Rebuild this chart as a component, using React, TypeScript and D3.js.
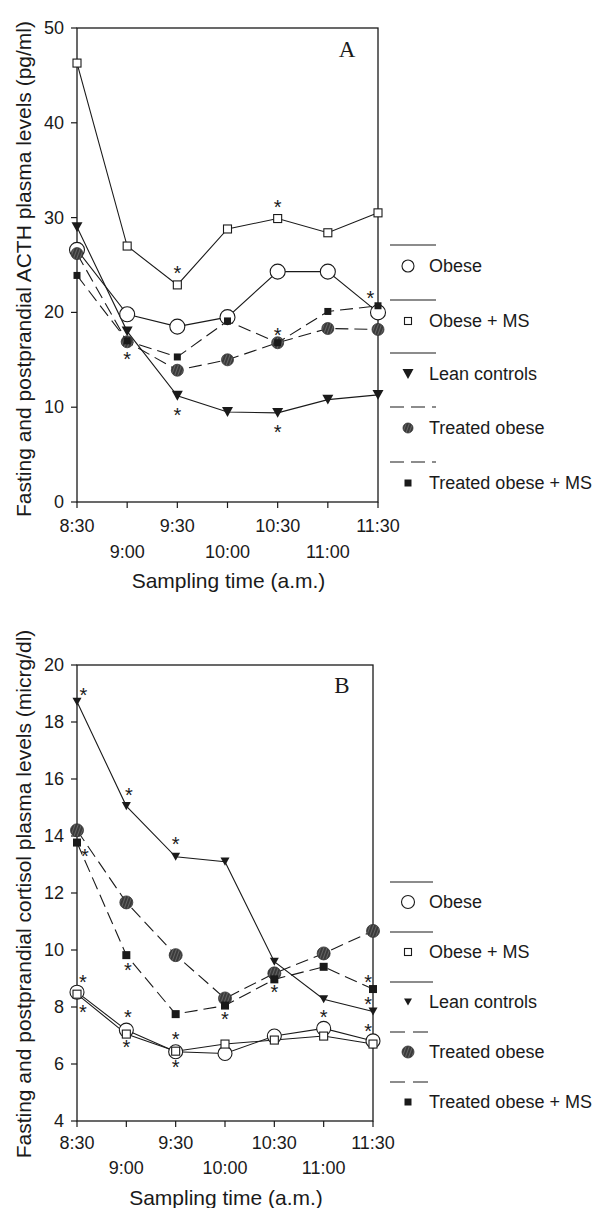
import React from "react";
import * as d3 from "d3";

// ---------- data ----------
const timeLabels = ["8:30", "9:00", "9:30", "10:00", "10:30", "11:00", "11:30"];

const seriesNames = ["Obese", "Obese + MS", "Lean controls", "Treated obese", "Treated obese + MS"];

// Panel A: ACTH (pg/ml)
const acthObese = [26.6, 19.8, 18.5, 19.5, 24.3, 24.3, 20.0];
const acthObeseMS = [46.3, 27.0, 22.9, 28.8, 29.9, 28.4, 30.5];
const acthLean = [29.0, 18.0, 11.2, 9.5, 9.4, 10.8, 11.3];
const acthTreated = [26.2, 16.9, 13.9, 15.0, 16.8, 18.3, 18.2];
const acthTreatedMS = [23.9, 17.0, 15.3, 19.1, 16.8, 20.1, 20.7];
const acthTicks = [0, 10, 20, 30, 40, 50];
const acthStars = [
  { t: 1, v: 15.6 }, { t: 2, v: 24.6 }, { t: 2, v: 9.7 },
  { t: 4, v: 31.6 }, { t: 4, v: 18.1 }, { t: 4, v: 7.9 }, { t: 5.85, v: 22.0 },
];

// Panel B: cortisol (micrg/dl)
const cortObese = [8.52, 7.19, 6.43, 6.37, 6.98, 7.25, 6.81];
const cortObeseMS = [8.45, 7.05, 6.45, 6.7, 6.84, 6.98, 6.7];
const cortLean = [18.71, 15.05, 13.27, 13.1, 9.59, 8.27, 7.84];
const cortTreated = [14.2, 11.67, 9.82, 8.3, 9.18, 9.88, 10.67];
const cortTreatedMS = [13.77, 9.82, 7.75, 8.05, 8.97, 9.41, 8.63];
const cortTicks = [4, 6, 8, 10, 12, 14, 16, 18, 20];
const cortStars = [
  { t: 0.13, v: 19.12 }, { t: 0.16, v: 13.44 }, { t: 0.12, v: 9.02 }, { t: 0.12, v: 8.0 },
  { t: 1.05, v: 15.58 }, { t: 1.03, v: 9.47 }, { t: 1.03, v: 7.79 }, { t: 1.0, v: 6.74 },
  { t: 2.0, v: 13.89 }, { t: 2.0, v: 7.05 }, { t: 2.0, v: 6.04 },
  { t: 3.0, v: 7.72 }, { t: 4.0, v: 8.67 }, { t: 5.0, v: 7.79 },
  { t: 5.9, v: 9.02 }, { t: 5.9, v: 8.25 }, { t: 5.9, v: 7.33 },
];

// ---------- styles ----------
const SANS = "'Liberation Sans', Arial, Helvetica, sans-serif";
const SERIF = "'Liberation Serif', 'Times New Roman', serif";
const INK = "#1a1a1a";

type MarkerKind = "circle" | "square" | "triangle" | "hatch" | "fsquare";
const kinds: MarkerKind[] = ["circle", "square", "triangle", "hatch", "fsquare"];
const dashed = [false, false, false, true, true];

type Sizes = { circle: number; square: number; triangle: number; hatch: number; fsquare: number };

function Marker({ kind, x, y, s }: { kind: MarkerKind; x: number; y: number; s: Sizes }) {
  if (kind === "circle")
    return <circle cx={x} cy={y} r={s.circle} fill="#fff" stroke={INK} strokeWidth={1.1} />;
  if (kind === "square")
    return <rect x={x - s.square / 2} y={y - s.square / 2} width={s.square} height={s.square} fill="#fff" stroke={INK} strokeWidth={1.1} />;
  if (kind === "triangle") {
    const w = s.triangle;
    const h = w * 0.9;
    return <path d={`M${x - w / 2},${y - h / 2}L${x + w / 2},${y - h / 2}L${x},${y + h / 2}Z`} fill={INK} />;
  }
  if (kind === "hatch")
    return <circle cx={x} cy={y} r={s.hatch} fill="url(#hatchPat)" stroke="#333" strokeWidth={0.8} />;
  return <rect x={x - s.fsquare / 2} y={y - s.fsquare / 2} width={s.fsquare} height={s.fsquare} fill={INK} />;
}

type PanelProps = {
  series: number[][];
  yDomain: [number, number];
  yTicks: number[];
  stars: { t: number; v: number }[];
  x0: number; x1: number; yTop: number; yBot: number;
  letter: string; letterY: number;
  yTitle: string; yTitleY: number;
  rowOff: [number, number, number];
  legendLineY: number[]; legendTextDy: number; legendLineEnd: number;
  legendDash: string;
  plotSizes: Sizes; legendSizes: Sizes;
};

function Panel(p: PanelProps) {
  const x = d3.scaleLinear().domain([0, 6]).range([p.x0, p.x1]);
  const y = d3.scaleLinear().domain(p.yDomain).range([p.yBot, p.yTop]);
  const line = d3.line<number>().x((_, i) => x(i)).y((d) => y(d));
  const titleX = (p.x0 + p.x1) / 2 + 1;
  return (
    <g>
      {/* frame */}
      <rect x={p.x0} y={p.yTop} width={p.x1 - p.x0} height={p.yBot - p.yTop} fill="none" stroke={INK} strokeWidth={1.3} />
      {/* y ticks */}
      {p.yTicks.map((t) => (
        <g key={"yt" + t}>
          <line x1={p.x0 - 6} x2={p.x0} y1={y(t)} y2={y(t)} stroke={INK} strokeWidth={1.2} />
          <text x={p.x0 - 13} y={y(t)} textAnchor="end" dominantBaseline="central" fontFamily={SANS} fontSize={18} fill={INK}>{t}</text>
        </g>
      ))}
      {/* x ticks */}
      {timeLabels.map((lab, i) => (
        <g key={"xt" + i}>
          <line x1={x(i)} x2={x(i)} y1={p.yBot} y2={p.yBot + 6} stroke={INK} strokeWidth={1.2} />
          <text x={x(i)} y={p.yBot + (i % 2 === 0 ? p.rowOff[0] : p.rowOff[1])} textAnchor="middle" fontFamily={SANS} fontSize={18} fill={INK}>{lab}</text>
        </g>
      ))}
      <text x={titleX} y={p.yBot + p.rowOff[2]} textAnchor="middle" fontFamily={SANS} fontSize={21} fill={INK}>Sampling time (a.m.)</text>
      <text transform={`translate(23,${p.yTitleY}) rotate(-90)`} textAnchor="middle" dominantBaseline="central" fontFamily={SANS} fontSize={21} fill={INK}>{p.yTitle}</text>
      <text x={p.x1 - 31} y={p.letterY} textAnchor="middle" fontFamily={SERIF} fontSize={23} fill={INK}>{p.letter}</text>
      {/* lines */}
      {p.series.map((s, k) => (
        <path key={"l" + k} d={line(s) || ""} fill="none" stroke={INK} strokeWidth={1.1} strokeDasharray={dashed[k] ? "13,6" : undefined} />
      ))}
      {/* markers */}
      {p.series.map((s, k) => (
        <g key={"m" + k}>
          {s.map((v, i) => (
            <Marker key={i} kind={kinds[k]} x={x(i)} y={y(v)} s={p.plotSizes} />
          ))}
        </g>
      ))}
      {/* asterisks */}
      {p.stars.map((st, i) => (
        <text key={"s" + i} x={x(st.t)} y={y(st.v) + 11.5} textAnchor="middle" fontFamily={SANS} fontSize={20} fill={INK}>*</text>
      ))}
      {/* legend */}
      {seriesNames.map((n, k) => (
        <g key={"lg" + k}>
          <line x1={390} x2={p.legendLineEnd} y1={p.legendLineY[k]} y2={p.legendLineY[k]} stroke={INK} strokeWidth={1.1} strokeDasharray={dashed[k] ? p.legendDash : undefined} />
          <Marker kind={kinds[k]} x={408} y={p.legendLineY[k] + p.legendTextDy} s={p.legendSizes} />
          <text x={429} y={p.legendLineY[k] + p.legendTextDy} dominantBaseline="central" fontFamily={SANS} fontSize={18} fill={INK}>{n}</text>
        </g>
      ))}
    </g>
  );
}

export default function App() {
  return (
    <svg width={600} height={1208} style={{ position: "absolute", left: 0, top: 0, background: "#fff" }}>
      <defs>
        <pattern id="hatchPat" width={3} height={3} patternUnits="userSpaceOnUse" patternTransform="rotate(20)">
          <rect width={3} height={3} fill="#3a3a3a" />
          <line x1={1.5} y1={0} x2={1.5} y2={3} stroke="#6a6a6a" strokeWidth={0.9} />
        </pattern>
      </defs>
      <rect width={600} height={1208} fill="#fff" />
      <Panel
        series={[acthObese, acthObeseMS, acthLean, acthTreated, acthTreatedMS]}
        yDomain={[0, 50]} yTicks={acthTicks} stars={acthStars}
        x0={77} x1={378} yTop={28} yBot={502}
        letter="A" letterY={57}
        yTitle="Fasting and postprandial ACTH plasma levels (pg/ml)" yTitleY={269}
        rowOff={[30, 56, 86]}
        legendLineY={[245, 300, 353, 407, 462]} legendTextDy={21} legendLineEnd={436}
        legendDash="14,7"
        plotSizes={{ circle: 7.5, square: 8, triangle: 11, hatch: 6, fsquare: 7 }}
        legendSizes={{ circle: 6, square: 7, triangle: 11, hatch: 5, fsquare: 7 }}
      />
      <Panel
        series={[cortObese, cortObeseMS, cortLean, cortTreated, cortTreatedMS]}
        yDomain={[4, 20]} yTicks={cortTicks} stars={cortStars}
        x0={77} x1={373} yTop={665} yBot={1121}
        letter="B" letterY={693}
        yTitle="Fasting and postprandial cortisol plasma levels (micrg/dl)" yTitleY={894}
        rowOff={[28, 53, 84]}
        legendLineY={[882, 932, 982, 1032, 1082]} legendTextDy={20} legendLineEnd={433}
        legendDash="15,8"
        plotSizes={{ circle: 7, square: 8, triangle: 9, hatch: 6.5, fsquare: 8 }}
        legendSizes={{ circle: 6.5, square: 7, triangle: 8, hatch: 6, fsquare: 7 }}
      />
    </svg>
  );
}
